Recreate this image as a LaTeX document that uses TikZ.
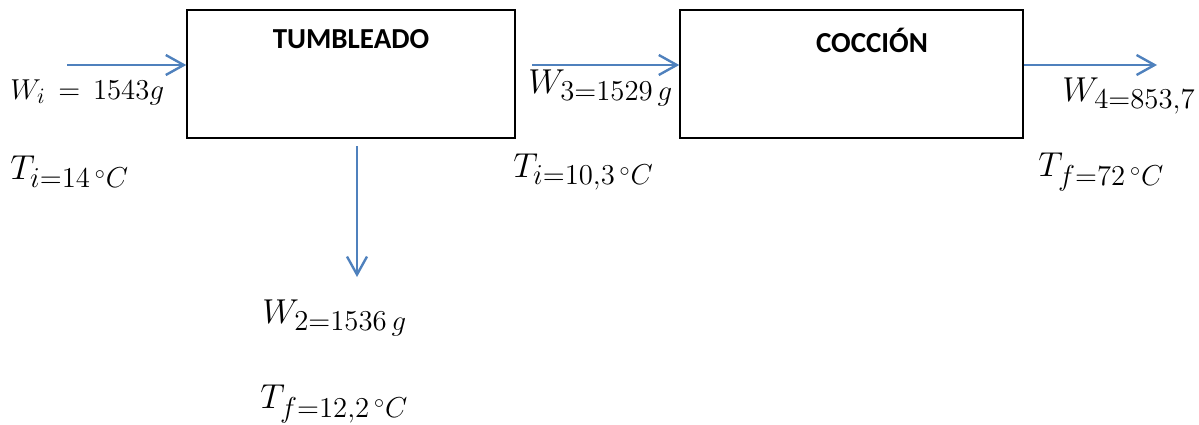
\documentclass[tikz,border=0pt]{standalone}
\usepackage{amsmath}
\usepackage{fontspec}
\setsansfont{Carlito}
\usetikzlibrary{arrows.meta}
\definecolor{flowblue}{HTML}{4F81BD}
% slightly larger subscripts for the stream data
\DeclareMathSizes{18}{18}{14}{10}
\DeclareMathSizes{14.5}{14.5}{10.5}{8}

\begin{document}
\begin{tikzpicture}[x=0.5pt,y=-0.5pt,
    proc/.style={draw,line width=0.75pt,minimum height=64pt,inner sep=0pt},
    title/.style={font=\sffamily\bfseries\fontsize{14.5}{16}\selectfont},
    flow/.style={draw=flowblue,line width=1.2pt,-{Straight Barb[length=9pt,width=10pt]}},
    big/.style={anchor=west,inner sep=0pt,font=\fontsize{18}{20}\selectfont},
    small/.style={anchor=west,inner sep=0pt,font=\fontsize{14.5}{16}\selectfont}]
    \useasboundingbox (0,0) rectangle (1199,424);
    % process boxes
    \node[proc,minimum width=164pt] (tumb) at (351,74) {};
    \node[title] (tumbT) at (351,39) {TUMBLEADO};
    \node[proc,minimum width=171.5pt] (cocc) at (851.5,74) {};
    \node[title] (coccT) at (872,40) {COCCIÓN};
    % free ends of the streams
    \coordinate (feed) at (67,65);
    \coordinate (mid) at (532,65);
    \coordinate (prod) at (1157,65);
    \coordinate (dripA) at (357,146);
    \coordinate (dripB) at (357,277);
    \draw[flow] (feed) -- (feed -| tumb.west);
    \draw[flow] (mid) -- (mid -| cocc.west);
    \draw[flow] (prod -| cocc.east) -- (prod);
    \draw[flow] (dripA) -- (dripB);
    % stream data
    \node[small] (wi) at (10,92) {$W_i\,=\,1543g$};
    \node[big] (ti) at (10,172) {$T_{i=14\,{}^{\circ}C}$};
    \node[big] (w3) at (528,88) {$W_{3=1529\,g}$};
    \node[big] (t3) at (513,172) {$T_{i=10{,}3\,{}^{\circ}C}$};
    \node[big] (w4) at (1062,96) {$W_{4=853{,}7}$};
    \node[big] (tf) at (1038,172) {$T_{f=72\,{}^{\circ}C}$};
    \node[big] (w2) at (262,318) {$W_{2=1536\,g}$};
    \node[big] (t2) at (260,404) {$T_{f=12{,}2\,{}^{\circ}C}$};
\end{tikzpicture}
\end{document}
